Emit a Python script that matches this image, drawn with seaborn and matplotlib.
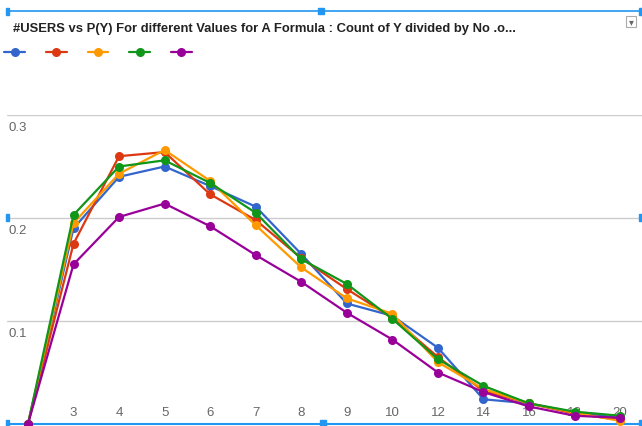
import pandas as pd
import matplotlib.pyplot as plt
import seaborn as sns
from matplotlib.lines import Line2D
from matplotlib.patches import Rectangle

# x categories (first one has no label on the chart)
categories = ["", "3", "4", "5", "6", "7", "8", "9", "10", "12", "14", "16", "18", "20"]

# P(Y) per series
series_a1 = [0, 0.190, 0.240, 0.250, 0.231, 0.211, 0.165, 0.117, 0.105, 0.074, 0.024, 0.020, 0.011, 0.006]
series_a2 = [0, 0.175, 0.260, 0.264, 0.223, 0.198, 0.161, 0.131, 0.103, 0.065, 0.032, 0.020, 0.010, 0.004]
series_a3 = [0, 0.195, 0.243, 0.266, 0.236, 0.193, 0.152, 0.122, 0.107, 0.060, 0.034, 0.020, 0.011, 0.003]
series_a4 = [0, 0.203, 0.250, 0.256, 0.234, 0.205, 0.160, 0.136, 0.102, 0.063, 0.037, 0.020, 0.012, 0.008]
series_a5 = [0, 0.155, 0.201, 0.214, 0.192, 0.164, 0.138, 0.108, 0.082, 0.050, 0.031, 0.017, 0.008, 0.006]
series_names = ["A1", "A2", "A3", "A4", "A5"]
colors = ["#3366cc", "#dc3912", "#ff9900", "#109618", "#990099"]

rows = []
for name, vals in zip(series_names, [series_a1, series_a2, series_a3, series_a4, series_a5]):
    for i, v in enumerate(vals):
        rows.append({"pos": i, "py": v, "series": name})
df = pd.DataFrame(rows)

sns.set_style("white")
plt.rcParams['font.family'] = ['Liberation Sans', 'DejaVu Sans']

W, H = 642, 427
fig = plt.figure(figsize=(6.42, 4.27), dpi=100)
ax = fig.add_axes([7 / W, 2 / H, 635 / W, 309 / H])

sns.lineplot(data=df, x="pos", y="py", hue="series", palette=colors, marker="o",
             markersize=6.5, markeredgewidth=0, linewidth=1.6, sort=False,
             legend=False, ax=ax, clip_on=False, zorder=3)

ax.set_xlim(-0.46, 13.48)
ax.set_ylim(0, 0.3)
for s in ["top", "right", "left"]:
    ax.spines[s].set_visible(False)
ax.spines["bottom"].set_color("#2196f3")
ax.spines["bottom"].set_linewidth(1.5)

ax.set_yticks([0.1, 0.2, 0.3])
ax.yaxis.grid(True, color="#cccccc", linewidth=1)
ax.set_yticklabels([])
ax.tick_params(axis="y", length=0)
for yv in [0.1, 0.2, 0.3]:
    ax.annotate(f"{yv:.1f}", xy=(0, yv), xycoords=("axes fraction", "data"),
                xytext=(1, -4), textcoords="offset points", ha="left", va="top",
                fontsize=9.5, color="#666666")

ax.set_xticks(range(len(categories)))
ax.set_xticklabels(categories, fontsize=9.5, color="#666666")
ax.tick_params(axis="x", length=0, pad=-13)
ax.set_xlabel("")
ax.set_ylabel("")

fig.text(13 / W, 1 - 29 / H,
         "#USERS vs P(Y) For different Values for A Formula : Count of Y divided by No .o...",
         fontsize=9.4, fontweight="bold", color="#222222", va="center", ha="left")

handles = [Line2D([0], [0], color=c, marker="o", markersize=6.5, markeredgewidth=0, linewidth=1.6)
           for c in colors]
fig.legend(handles, [""] * 5, loc="center left", bbox_to_anchor=(0, 1 - 54 / H),
           ncol=5, frameon=False, handlelength=1.5, handletextpad=0,
           columnspacing=1.5, borderpad=0, borderaxespad=0.3, fontsize=10)

# editor selection frame seen in the screenshot
fig.add_artist(Line2D([8 / W, 1], [1 - 12 / H, 1 - 12 / H], color="#2196f3", linewidth=1.2,
                      transform=fig.transFigure))
for (px, py, pw, ph) in [(6, 9, 3, 7), (318, 9, 6, 6), (639, 9, 3, 7),
                         (6, 215, 3, 7), (639, 215, 3, 7), (320, 421, 6, 6),
                         (6, 421, 3, 6), (639, 421, 3, 6)]:
    fig.add_artist(Rectangle((px / W, 1 - (py + ph) / H), pw / W, ph / H,
                             transform=fig.transFigure, color="#2196f3"))
# dropdown button
fig.add_artist(Rectangle((626 / W, 1 - 28 / H), 10 / W, 11 / H, transform=fig.transFigure,
                         facecolor="white", edgecolor="#aaaaaa", linewidth=0.8))
fig.text(631 / W, 1 - 22 / H, "▾", fontsize=7, color="#666666", ha="center", va="center")

plt.savefig("out.png", dpi=100)
